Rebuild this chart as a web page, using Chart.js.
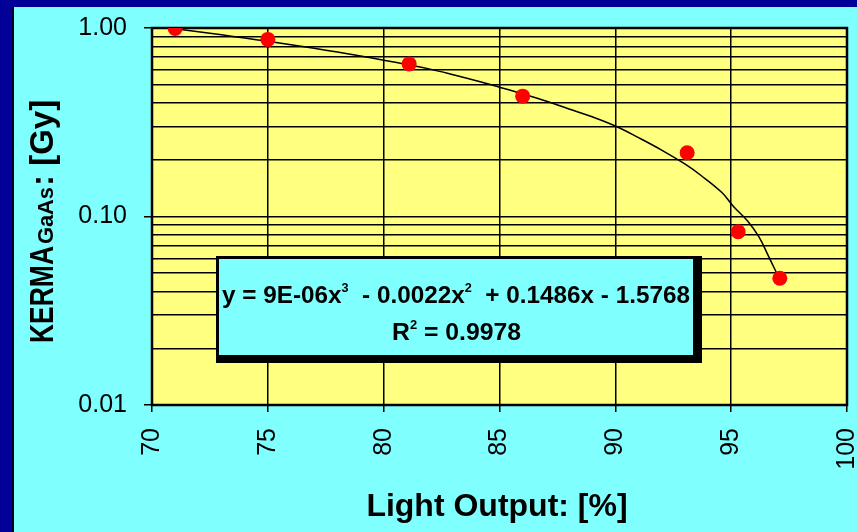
<!DOCTYPE html>
<html>
<head>
<meta charset="utf-8">
<script src="https://cdn.jsdelivr.net/npm/chart.js@4/dist/chart.umd.min.js"></script>
<style>
  html, body { margin:0; padding:0; background:#000099; overflow:hidden; }
  #wrap { position:absolute; left:12px; top:7px; width:843px; height:525px; border-left:2px solid #000022; background:#80FFFF; }
  canvas { display:block; }
</style>
</head>
<body>
<div id="wrap"><canvas id="kerma" width="843" height="525"></canvas></div>
<script>
// measured points
const lightOutput = [71.0, 75.0, 81.1, 86.0, 93.1, 95.3, 97.1];
const kerma = [0.995, 0.87, 0.645, 0.435, 0.218, 0.083, 0.047];

// trendline
const trendX = [71.0, 72.0, 73.0, 74.0, 75.0, 76.0, 77.0, 78.0, 79.0, 80.0, 81.0, 82.0, 83.0, 84.0, 85.0, 86.0, 87.0, 88.0, 89.0, 90.0, 91.0, 92.0, 93.0, 93.7, 94.6, 95.1, 95.7, 96.2, 96.6, 96.9, 97.1];
const trendY = [0.99, 0.955, 0.92, 0.885, 0.85, 0.815, 0.78, 0.745, 0.71, 0.675, 0.64, 0.605, 0.565, 0.525, 0.485, 0.447, 0.41, 0.372, 0.338, 0.302, 0.262, 0.225, 0.19, 0.165, 0.134, 0.113, 0.095, 0.078, 0.062, 0.052, 0.046];

const xTicks = [70, 75, 80, 85, 90, 95, 100];
const yGrid = [0.01, 0.02, 0.03, 0.04, 0.05, 0.06, 0.07, 0.08, 0.09, 0.1, 0.2, 0.3, 0.4, 0.5, 0.6, 0.7, 0.8, 0.9, 1];
const yMajor = [0.01, 0.1, 1];
const yMajorLabels = ['0.01', '0.10', '1.00'];

const xTitle = 'Light Output: [%]';
const yTitle = ['KERMA', 'GaAs', ': [Gy]'];
// [text, superscript?]
const eqLine1 = [['y = 9E-06x', false], ['3', true], ['  - 0.0022x', false], ['2', true], ['  + 0.1486x - 1.5768', false]];
const eqLine2 = [['R', false], ['2', true], [' = 0.9978', false]];

const FONT = '"Liberation Sans", Arial, Helvetica, sans-serif';

function majorIndex(v) {
  return yMajor.findIndex(m => Math.abs(Math.log10(v) - Math.log10(m)) < 1e-6);
}

function noPad(s) {
  s.paddingTop = 0; s.paddingBottom = 0; s.paddingLeft = 0; s.paddingRight = 0;
}

function drawRich(ctx, parts, x, y, width, size) {
  const big = 'bold ' + size + 'px ' + FONT;
  const sup = 'bold ' + Math.round(size * 0.5) + 'px ' + FONT;
  let natural = 0;
  parts.forEach(([t, s]) => { ctx.font = s ? sup : big; natural += ctx.measureText(t).width; });
  ctx.save();
  ctx.translate(x, y);
  ctx.scale(width / natural, 1);
  let cx = 0;
  parts.forEach(([t, s]) => {
    ctx.font = s ? sup : big;
    ctx.fillText(t, cx, s ? -size * 0.5 : 0);
    cx += ctx.measureText(t).width;
  });
  ctx.restore();
}

const decorations = {
  id: 'decorations',
  beforeDraw(chart) {
    const { ctx, chartArea: a } = chart;
    ctx.save();
    ctx.fillStyle = '#FFFF80';
    ctx.fillRect(a.left, a.top, a.right - a.left, a.bottom - a.top);
    ctx.restore();
  },
  beforeDatasetsDraw(chart) {
    const { ctx, chartArea: a } = chart;
    ctx.save();
    ctx.strokeStyle = '#000';
    ctx.lineWidth = 2.5;
    ctx.strokeRect(a.left, a.top, a.right - a.left, a.bottom - a.top);
    ctx.restore();
  },
  afterDraw(chart) {
    const ctx = chart.ctx;
    ctx.save();
    ctx.fillStyle = '#000';
    ctx.textBaseline = 'alphabetic';

    // x title
    ctx.font = 'bold 32px ' + FONT;
    ctx.textAlign = 'center';
    ctx.fillText(xTitle, 483, 509, 262);

    // y title with subscript
    ctx.save();
    ctx.translate(39, 336);
    ctx.rotate(-Math.PI / 2);
    ctx.textAlign = 'left';
    ctx.font = 'bold 33px ' + FONT;
    ctx.fillText(yTitle[0], 0, 0, 97);
    ctx.font = 'bold 22px ' + FONT;
    ctx.fillText(yTitle[1], 99, 0, 57);
    ctx.font = 'bold 33px ' + FONT;
    ctx.fillText(yTitle[2], 157, 0, 88);
    ctx.restore();

    // equation box
    ctx.fillStyle = '#000';
    ctx.fillRect(202, 249, 486, 107);
    ctx.fillStyle = '#80FFFF';
    ctx.fillRect(205, 252, 474, 96);
    ctx.fillStyle = '#000';
    ctx.textAlign = 'left';
    drawRich(ctx, eqLine1, 208, 296, 468, 23);
    drawRich(ctx, eqLine2, 378, 333, 129, 23);
    ctx.restore();
  }
};

new Chart(document.getElementById('kerma'), {
  type: 'scatter',
  data: {
    datasets: [
      {
        label: 'KERMA',
        data: lightOutput.map((x, i) => ({ x, y: kerma[i] })),
        backgroundColor: '#FF0000',
        borderColor: '#FF0000',
        borderWidth: 0,
        pointRadius: 7.5,
        order: 0
      },
      {
        label: 'Poly. trend',
        data: trendX.map((x, i) => ({ x, y: trendY[i] })),
        showLine: true,
        borderColor: '#000',
        borderWidth: 1.5,
        pointRadius: 0,
        tension: 0.4,
        fill: false,
        order: 1
      }
    ]
  },
  options: {
    responsive: false,
    devicePixelRatio: 1,
    animation: false,
    layout: { padding: { top: 21, right: 10, left: 0, bottom: 0 } },
    plugins: { legend: { display: false }, tooltip: { enabled: false } },
    scales: {
      x: {
        type: 'linear', min: 70, max: 100,
        afterBuildTicks: s => { s.ticks = xTicks.map(v => ({ value: v })); },
        afterFit: s => { s.height = 127; noPad(s); },
        ticks: { autoSkip: false, minRotation: 90, maxRotation: 90, padding: 16, color: '#000', font: { family: FONT, size: 25 } },
        grid: { color: '#000', lineWidth: 1.5, tickLength: 7, tickColor: '#000' },
        border: { display: false }
      },
      y: {
        type: 'logarithmic', min: 0.01, max: 1,
        afterBuildTicks: s => { s.ticks = yGrid.map(v => ({ value: v })); },
        afterFit: s => { s.width = 138; noPad(s); },
        ticks: {
          autoSkip: false, padding: 17, color: '#000', font: { family: FONT, size: 25 },
          callback: v => { const i = majorIndex(v); return i >= 0 ? yMajorLabels[i] : ''; }
        },
        grid: {
          color: '#000', lineWidth: 1.5, tickLength: 8,
          tickColor: c => (c.tick && majorIndex(c.tick.value) >= 0) ? '#000' : 'rgba(0,0,0,0)'
        },
        border: { display: false }
      }
    }
  },
  plugins: [decorations]
});
</script>
</body>
</html>
